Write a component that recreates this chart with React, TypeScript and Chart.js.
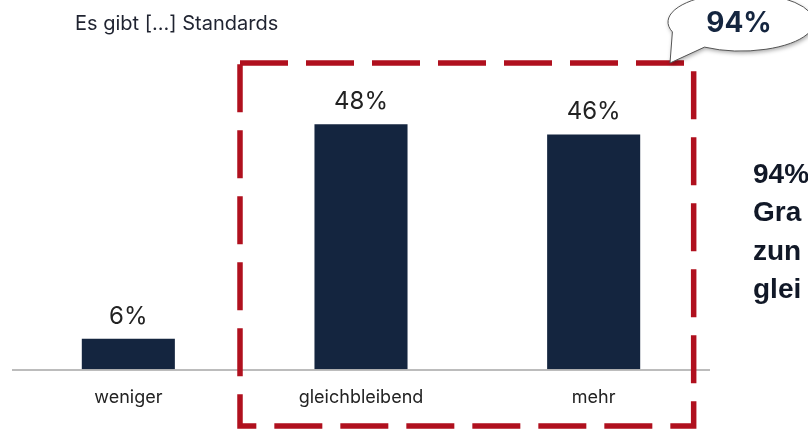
import React, { useEffect, useRef } from "react";
import { Chart, registerables } from "chart.js";

Chart.register(...registerables);

const categories = ["weniger", "gleichbleibend", "mehr"];
const values = [6, 48, 46];
const titleText = "Es gibt [...] Standards";
const bubbleText = "94%";
const sideLines = ["94% sehen", "Gra fik-", "zun ehmend", "glei chbleibend"];

const NAVY = "#14253f";
const RED = "#b0101e";
const FONT = "Inter, 'Noto Sans', sans-serif";
const BOLD_FONT = "'Liberation Sans', Arial, sans-serif";

const overlayPlugin = {
  id: "overlay",
  afterDraw(chart: any) {
    const ctx = chart.ctx as CanvasRenderingContext2D;
    const xs = chart.scales.x;
    const ys = chart.scales.y;
    const area = chart.chartArea;
    ctx.save();

    // axis line
    const y0 = ys.getPixelForValue(0);
    ctx.strokeStyle = "#a6a6a6";
    ctx.lineWidth = 1.5;
    ctx.beginPath();
    ctx.moveTo(area.left, y0 + 0.5);
    ctx.lineTo(area.right, y0 + 0.5);
    ctx.stroke();

    // value labels
    const meta = chart.getDatasetMeta(0);
    ctx.fillStyle = "#222";
    ctx.font = `24px ${FONT}`;
    ctx.textAlign = "center";
    ctx.textBaseline = "alphabetic";
    meta.data.forEach((bar: any, i: number) => {
      ctx.fillText(values[i] + "%", bar.x, bar.y - 15);
    });

    // title
    ctx.font = `20px ${FONT}`;
    ctx.textAlign = "left";
    ctx.fillStyle = "#1f2330";
    ctx.fillText(titleText, 75, 30);

    // dashed rectangle around gleichbleibend + mehr
    const x1 = xs.getPixelForValue(1) - 121;
    const x2 = xs.getPixelForValue(2) + 100;
    ctx.strokeStyle = RED;
    ctx.lineWidth = 5.5;
    ctx.setLineDash([48, 18]);
    ctx.strokeRect(x1, 63, x2 - x1, 426 - 63);
    ctx.setLineDash([]);

    // speech bubble
    const cx = 741, cy = 22, rx = 73, ry = 29;
    ctx.save();
    ctx.shadowColor = "rgba(0,0,0,0.35)";
    ctx.shadowBlur = 4;
    ctx.shadowOffsetX = 1;
    ctx.shadowOffsetY = 2;
    ctx.beginPath();
    const start = (120 * Math.PI) / 180;
    const end = (160 * Math.PI) / 180;
    ctx.ellipse(cx, cy, rx, ry, 0, end, start + 2 * Math.PI, false);
    ctx.lineTo(670, 63);
    ctx.closePath();
    ctx.fillStyle = "#ffffff";
    ctx.fill();
    ctx.restore();
    ctx.strokeStyle = "#555";
    ctx.lineWidth = 1;
    ctx.stroke();

    ctx.fillStyle = NAVY;
    ctx.font = `bold 28px ${FONT}`;
    ctx.textAlign = "center";
    ctx.textBaseline = "middle";
    ctx.fillText(bubbleText, 739, 24);

    // side text
    ctx.fillStyle = "#111827";
    ctx.font = `bold 28px ${BOLD_FONT}`;
    ctx.textAlign = "left";
    ctx.textBaseline = "middle";
    sideLines.forEach((t, i) => {
      ctx.fillText(t, 753, 175 + i * 38.5);
    });

    ctx.restore();
  },
};

export default function App() {
  const ref = useRef<HTMLCanvasElement | null>(null);
  useEffect(() => {
    if (!ref.current) return;
    const chart = new Chart(ref.current, {
      type: "bar",
      data: {
        labels: categories,
        datasets: [
          {
            data: values,
            backgroundColor: NAVY,
            barPercentage: 0.4,
            categoryPercentage: 1,
          },
        ],
      },
      options: {
        responsive: false,
        animation: false,
        layout: { padding: { left: 12, right: 98, top: 63, bottom: 8 } },
        plugins: {
          legend: { display: false },
          tooltip: { enabled: false },
          title: { display: false },
        },
        scales: {
          x: {
            grid: { display: false, drawTicks: false },
            border: { display: false },
            ticks: {
              color: "#222",
              font: { family: "Inter, 'Noto Sans', sans-serif", size: 18 },
              padding: 17,
            },
          },
          y: {
            display: false,
            min: 0,
            max: 60,
          },
        },
      },
      plugins: [overlayPlugin],
    });
    return () => chart.destroy();
  }, []);
  return (
    <div style={{ position: "fixed", left: 0, top: 0, width: 808, height: 433, background: "#fff" }}>
      <canvas ref={ref} width={808} height={433} style={{ width: 808, height: 433 }} />
    </div>
  );
}
